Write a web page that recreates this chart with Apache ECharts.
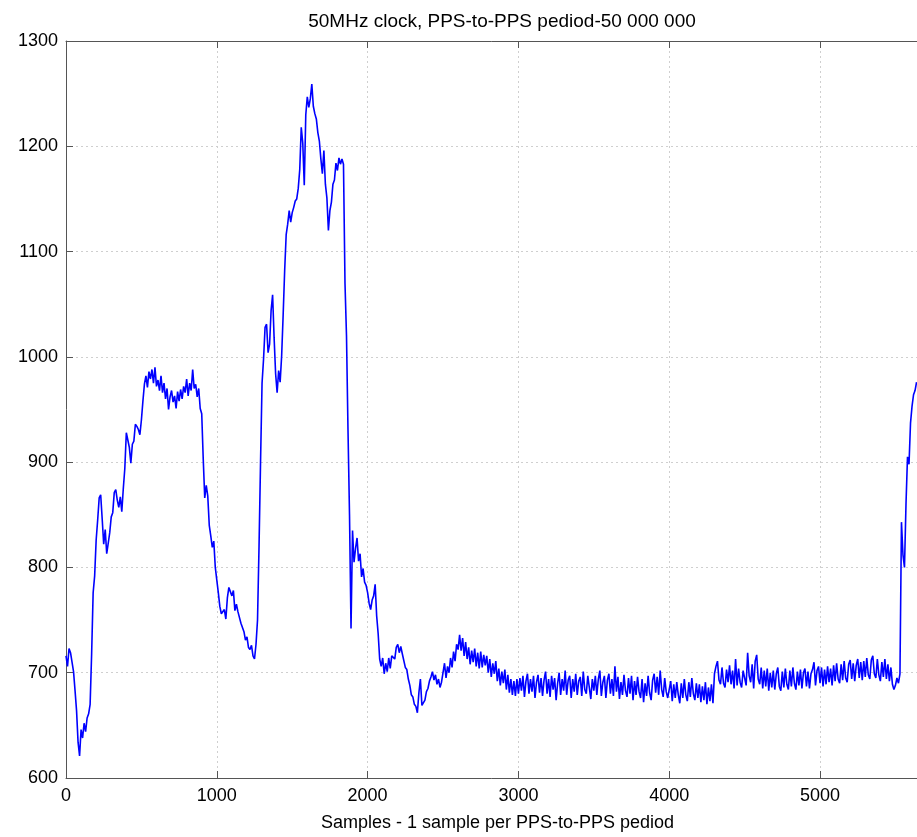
<!DOCTYPE html>
<html>
<head>
<meta charset="utf-8">
<script src="https://cdn.jsdelivr.net/npm/echarts@6/dist/echarts.min.js"></script>
<style>html,body{margin:0;padding:0;background:#fff;}#chart{width:917px;height:837px;}</style>
</head>
<body>
<div id="chart"></div>
<script>
// Sample step between values (samples)
const STEP = 10;
// Values, one every STEP samples, grouped by 500-sample blocks
const seg0 = [716,706,723,719,710,701,683,664,634,621, 646,638,652,644,657,661,670,718,776,792, 826,845,866,869,846,822,836,813,814,833, 848,852,871,874,864,857,867,853,875,894, 928,921,914,899,917,920,936,934,931,926];
const seg1 = [940,958,974,982,971,986,979,988,975,990, 972,978,968,982,966,975,960,970,950,962, 968,957,963,951,967,958,969,960,972,966, 979,963,975,968,988,970,974,962,970,951, 946,903,866,878,868,840,830,819,825,800];
const seg2 = [788,776,763,756,757,760,751,771,781,780, 773,778,759,765,758,757,747,746,739,731, 734,724,722,726,716,713,727,750,820,900, 975,998,1028,1031,1004,1012,1044,1059,1018,984, 966,987,976,1001,1040,1082,1116,1126,1139,1128];
const seg3 = [1137,1142,1148,1150,1160,1178,1218,1203,1163,1230, 1247,1237,1245,1259,1238,1231,1226,1213,1205,1188, 1174,1196,1164,1151,1120,1139,1147,1164,1168,1184, 1177,1189,1183,1188,1183,1070,1020,930,850,742, 835,805,818,828,806,813,791,799,786,783];
const seg4 = [776,766,760,769,773,784,754,737,713,706, 714,699,709,701,714,704,716,717,713,724, 727,719,725,718,717,705,703,694,688,679, 677,670,668,662,681,694,669,670,674,682, 685,692,696,701,693,698,689,694,686,691];
const seg5 = [690,709,695,706,700,714,705,720,711,727, 722,736,721,733,716,729,713,724,708,721, 710,723,706,719,704,720,705,717,707,716, 700,713,696,709,699,711,692,704,688,701, 690,703,684,698,681,694,679,692,678,694];
const seg6 = [680,695,683,697,677,692,699,680,694,682, 697,676,691,698,681,695,678,693,701,680, 694,677,697,684,695,674,690,700,679,694, 683,702,679,693,697,676,694,682,699,679, 692,696,678,701,684,680,697,686,675,694];
const seg7 = [683,697,679,694,702,678,691,697,676,693, 699,680,694,678,706,682,696,675,691,679, 698,683,677,695,680,697,674,692,679,696, 682,676,694,672,690,678,697,681,674,693, 699,681,696,679,702,684,677,695,682,676];
const seg8 = [677,692,673,689,676,691,679,671,690,676, 694,679,673,691,677,695,680,674,690,676, 689,672,687,674,691,670,686,673,689,671, 699,706,711,693,689,705,690,686,703,691, 707,689,702,685,713,688,704,691,686,702];
const seg9 = [703,688,719,697,691,708,685,711,717,694, 689,705,685,702,687,704,683,700,686,702, 684,699,705,687,683,701,686,704,689,684, 702,687,705,690,684,701,688,703,685,700, 704,687,701,685,699,703,710,688,702,706];
const seg10 = [690,705,687,703,689,706,691,704,688,707, 692,709,694,690,708,693,711,695,691,708, 712,694,709,692,707,713,695,710,693,711, 696,714,698,694,712,716,699,695,713,698, 692,710,696,713,694,708,692,705,689,684];
const seg11 = [688,695,690,699,843,812,800,860,905,898, 937,953,964,968,976];

const xTicks = [0, 1000, 2000, 3000, 4000, 5000];
const xMax = 5643;
const yTicks = [600, 700, 800, 900, 1000, 1100, 1200, 1300];

const titleText = '50MHz clock, PPS-to-PPS pediod-50 000 000';
const xName = 'Samples - 1 sample per PPS-to-PPS pediod';

const allValues = [].concat(seg0, seg1, seg2, seg3, seg4, seg5, seg6, seg7, seg8, seg9, seg10, seg11);
const seriesData = allValues.map((v, i) => [i * STEP, v]);

const FONT = 'Liberation Sans, Arial, sans-serif';
const chart = echarts.init(document.getElementById('chart'), null, {renderer: 'canvas'});
const axisCommon = {
  type: 'value',
  axisLine: {show: true, lineStyle: {color: '#555', width: 1}},
  axisTick: {show: true, inside: true, length: 7, lineStyle: {color: '#555'}},
};
const plain = v => String(v);
chart.setOption({
  animation: false,
  backgroundColor: '#fff',
  title: {
    text: titleText, left: 497, top: 7, textAlign: 'center',
    textStyle: {fontFamily: FONT, fontSize: 19, fontWeight: 'normal', color: '#000'}
  },
  grid: {left: 66, right: 0, top: 41, bottom: 58, containLabel: false},
  xAxis: [
    Object.assign({}, axisCommon, {
      min: xTicks[0], max: xMax, interval: xTicks[1] - xTicks[0], position: 'bottom',
      name: xName, nameLocation: 'middle', nameGap: 36,
      nameTextStyle: {fontFamily: FONT, fontSize: 18, color: '#000', padding: [0, 0, 0, 12]},
      axisLabel: {fontFamily: FONT, fontSize: 18, color: '#000', margin: 9, showMaxLabel: false, formatter: plain},
      splitLine: {show: true, lineStyle: {color: '#cfcfcf', type: [2, 3], width: 1}}
    }),
    Object.assign({}, axisCommon, {
      min: xTicks[0], max: xMax, interval: 1000, position: 'top',
      axisLabel: {show: false}, splitLine: {show: false}
    })
  ],
  yAxis: Object.assign({}, axisCommon, {
    min: yTicks[0], max: yTicks[yTicks.length - 1], interval: 100,
    axisLabel: {fontFamily: FONT, fontSize: 18, color: '#000', margin: 8, formatter: plain},
    splitLine: {show: true, lineStyle: {color: '#cfcfcf', type: [2, 3], width: 1}}
  }),
  series: [{
    type: 'line', data: seriesData, showSymbol: false, symbol: 'none',
    lineStyle: {color: '#0000ff', width: 1.6}, xAxisIndex: 0, clip: true
  }]
});
</script>
</body>
</html>
